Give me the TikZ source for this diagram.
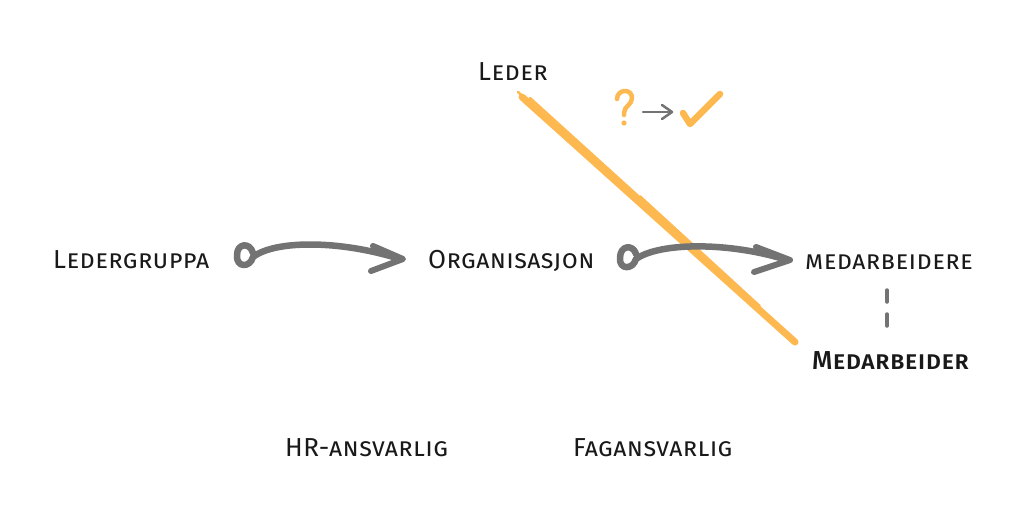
\documentclass[tikz,border=0pt]{standalone}
\usepackage{fontspec}
\setmainfont{Fira Sans}[LetterSpace=1.5]
\newfontfamily\medfont{Fira Sans Medium}[LetterSpace=1.5]
\begin{document}
\begin{tikzpicture}[x=1pt,y=-1pt,
  lbl/.style={anchor=base west,inner sep=0pt,font=\fontsize{26}{30}\selectfont\scshape,text=black!90},
  gbrush/.style={draw=black!55,line width=6.5pt,line cap=round,line join=round},
  obrush/.style={draw=brushorange,line cap=round,line join=round}]
\definecolor{brushorange}{RGB}{253,185,80}
\useasboundingbox[fill=white] (0,0) rectangle (1024,517);
% labels
\node[lbl] (leder) at (478,80) {Leder};
\node[lbl] (lgr) at (53,268) {Ledergruppa};
\node[lbl] (org) at (428,268) {Organisasjon};
\node[lbl] (medere) at (805,269) {medarbeidere};
\node[lbl,font=\medfont\fontsize{26}{30}\selectfont\scshape] (med) at (812,369) {Medarbeider};
\node[lbl] (hr) at (285,456) {HR-ansvarlig};
\node[lbl] (fag) at (573,456) {Fagansvarlig};
% orange strike line
\draw[obrush,line width=7pt] (522,97) -- (795,342);
\draw[obrush,line width=2.5pt] (518,92) -- (560,131);
\draw[obrush,line width=2.5pt] (530,98) -- (690,243);
\draw[obrush,line width=2.5pt] (600,165) -- (783,333);
\draw[obrush,line width=2pt] (640,196) -- (760,306);
% arrow 1
\draw[gbrush] (253,253) .. controls (250,242) and (237,243) .. (237,255)
  .. controls (236,268) and (250,268) .. (253,257)
  .. controls (275,240) and (340,240) .. (400,259);
\draw[gbrush,line width=6pt] (373,246) -- (403,259) -- (371,271);
% arrow 2
\draw[gbrush] (636,254) .. controls (633,244) and (620,245) .. (620,258)
  .. controls (619,270) and (633,270) .. (636,259)
  .. controls (660,242) and (730,242) .. (787,260);
\draw[gbrush,line width=6pt] (756,247) -- (790,260) -- (754,272);
% question mark, small arrow, check
\draw[obrush,line width=4.5pt] (617,99) .. controls (617,89) and (632,88) .. (632,98)
  .. controls (632,105) and (624,106) .. (624,113) -- (624,115);
\fill[brushorange] (624,123) circle (2.6);
\draw[draw=black!55,line width=2.5pt,line cap=round,line join=round] (643,112) -- (671,112);
\draw[draw=black!55,line width=2.5pt,line cap=round,line join=round] (662,105) -- (672,112) -- (662,119);
\draw[obrush,line width=6.5pt] (683,113) -- (690,124) -- (720,94);
% dashed separator
\draw[draw=black!55,line width=3.5pt,line cap=round] (887,290) -- (887,302);
\draw[draw=black!55,line width=3.5pt,line cap=round] (887,314) -- (887,326);
\end{tikzpicture}
\end{document}
